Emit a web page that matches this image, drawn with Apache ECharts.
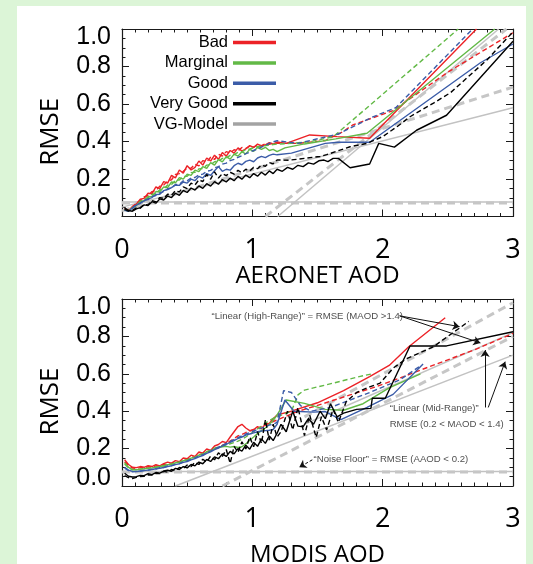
<!DOCTYPE html>
<html><head><meta charset="utf-8">
<script src="https://cdn.jsdelivr.net/npm/echarts@6/dist/echarts.min.js"></script>
<style>
html,body{margin:0;padding:0;background:#dcf5d7;overflow:hidden;}
#panel{position:absolute;left:17px;top:6px;width:509px;height:558px;background:#fff;}
#c{position:absolute;left:0;top:0;width:533px;height:564px;}
</style>
</head><body><div id="panel"></div><div id="c"></div>
<script>
// ---------- shared AOD bins for the dense (low-AOD) part ----------
const LOW_X = [0.02,0.05,0.08,0.11,0.14,0.17,0.20,0.23,0.26,0.29,0.32,0.35,0.38,0.41,0.44,0.47,0.50,0.53,0.56,0.59,0.62,0.65,0.68,0.71,0.74,0.77,0.80,0.83,0.86,0.89,0.92,0.95,0.98,1.01,1.04,1.07,1.10,1.13,1.16,1.19];

// ---------- top panel (AERONET AOD) ----------
const BAD_S_LOW  = [0.042,0.031,0.054,0.066,0.092,0.097,0.124,0.121,0.158,0.149,0.186,0.178,0.219,0.206,0.248,0.231,0.271,0.248,0.262,0.296,0.274,0.312,0.296,0.327,0.305,0.341,0.322,0.352,0.338,0.366,0.349,0.361,0.378,0.368,0.386,0.376,0.382,0.394,0.386,0.397];
const BAD_S_HIGH = [[1.26,0.39],[1.44,0.435],[1.65,0.426],[1.90,0.417],[2.72,1.0]];
const BAD_D_LOW  = [0.038,0.034,0.049,0.071,0.083,0.104,0.112,0.133,0.139,0.162,0.168,0.189,0.196,0.224,0.229,0.241,0.258,0.257,0.279,0.270,0.298,0.291,0.316,0.304,0.332,0.322,0.346,0.339,0.356,0.350,0.368,0.362,0.375,0.370,0.381,0.378,0.388,0.385,0.392,0.390];
const BAD_D_HIGH = [[1.35,0.39],[1.56,0.405],[1.69,0.45],[1.77,0.488],[2.08,0.565],[2.50,0.77],[3.0,0.98]];
const MAR_S_LOW  = [0.036,0.029,0.048,0.058,0.081,0.084,0.107,0.106,0.133,0.131,0.158,0.154,0.184,0.179,0.207,0.199,0.226,0.219,0.247,0.239,0.266,0.257,0.287,0.274,0.304,0.291,0.319,0.306,0.333,0.322,0.345,0.334,0.358,0.348,0.368,0.358,0.369,0.352,0.358,0.346];
const MAR_S_HIGH = [[1.25,0.366],[1.40,0.387],[1.64,0.414],[1.88,0.444],[2.86,1.0]];
const MAR_D_LOW  = [0.034,0.031,0.044,0.062,0.073,0.092,0.098,0.118,0.121,0.143,0.146,0.168,0.171,0.193,0.195,0.214,0.215,0.234,0.236,0.254,0.256,0.274,0.276,0.292,0.295,0.310,0.313,0.326,0.330,0.342,0.345,0.356,0.360,0.366,0.372,0.375,0.378,0.380,0.384,0.386];
const MAR_D_HIGH = [[1.30,0.39],[1.45,0.40],[1.62,0.425],[1.98,0.64],[2.58,1.0]];
const GOOD_S_LOW = [0.034,0.028,0.046,0.061,0.072,0.083,0.094,0.101,0.117,0.119,0.138,0.144,0.154,0.168,0.166,0.184,0.178,0.199,0.191,0.214,0.205,0.229,0.219,0.244,0.266,0.241,0.252,0.247,0.271,0.284,0.276,0.294,0.301,0.292,0.312,0.321,0.314,0.326,0.333,0.329];
const GOOD_S_HIGH= [[1.30,0.338],[1.56,0.39],[1.66,0.396],[1.90,0.396],[2.75,0.82],[3.0,0.92]];
const GOOD_D_LOW = [0.033,0.030,0.043,0.064,0.069,0.088,0.090,0.106,0.112,0.126,0.133,0.148,0.152,0.171,0.172,0.190,0.190,0.206,0.208,0.222,0.226,0.241,0.246,0.260,0.266,0.279,0.285,0.298,0.305,0.315,0.324,0.335,0.343,0.352,0.360,0.370,0.380,0.390,0.398,0.404];
const GOOD_D_HIGH= [[1.35,0.39],[1.66,0.44],[1.79,0.485],[1.92,0.53],[2.10,0.58],[2.69,1.0]];
const VG_S_LOW   = [0.046,0.032,0.028,0.041,0.047,0.062,0.058,0.079,0.071,0.094,0.088,0.109,0.101,0.124,0.113,0.139,0.128,0.152,0.141,0.163,0.150,0.175,0.162,0.186,0.172,0.197,0.184,0.205,0.191,0.214,0.199,0.221,0.207,0.229,0.215,0.236,0.221,0.243,0.229,0.252];
const VG_S_HIGH  = [[1.23,0.241],[1.27,0.262],[1.31,0.252],[1.35,0.273],[1.39,0.266],[1.43,0.286],[1.47,0.279],[1.51,0.297],[1.55,0.301],[1.58,0.293],[1.62,0.31],[1.66,0.31],[1.75,0.26],[1.90,0.28],[1.97,0.39],[2.09,0.37],[2.26,0.46],[2.49,0.54],[3.0,0.935]];
const VG_D_LOW   = [0.038,0.029,0.033,0.046,0.044,0.064,0.062,0.085,0.078,0.101,0.096,0.119,0.113,0.138,0.131,0.158,0.149,0.178,0.168,0.196,0.186,0.224,0.199,0.238,0.205,0.229,0.218,0.236,0.226,0.246,0.234,0.252,0.243,0.262,0.255,0.274,0.268,0.288,0.281,0.302];
const VG_D_HIGH  = [[1.28,0.30],[1.40,0.31],[1.52,0.32],[1.57,0.33],[1.75,0.372],[1.88,0.39],[2.00,0.426],[2.11,0.479],[2.21,0.532],[2.39,0.605],[2.52,0.66],[2.80,0.835],[3.0,0.985]];
const MODEL_TOP = {
  nfSolid:  [[0,0.077],[3,0.077]],
  nfDash:   [[0,0.072],[3,0.072]],
  midSolid: [[0,0.05],[3,0.58]],
  midDash:  [[0,0.03],[3,0.69]],
  hiSolid:  [[1.195,0],[2.89,1.0]],
  hiDash:   [[1.10,0],[2.95,1.0]]
};

// ---------- bottom panel (MODIS AOD) ----------
const BAD_S2_LOW  = [0.140,0.115,0.100,0.098,0.104,0.100,0.109,0.104,0.114,0.108,0.120,0.128,0.122,0.136,0.130,0.150,0.146,0.165,0.158,0.182,0.176,0.198,0.190,0.214,0.222,0.238,0.232,0.262,0.290,0.318,0.330,0.310,0.296,0.300,0.318,0.306,0.330,0.335,0.360,0.380];
const BAD_S2_HIGH = [[1.30,0.40],[1.50,0.445],[1.70,0.51],[1.90,0.585],[2.05,0.645],[2.20,0.745],[2.48,0.90]];
const BAD_D2_LOW  = [0.130,0.108,0.096,0.094,0.098,0.097,0.103,0.101,0.108,0.106,0.114,0.118,0.119,0.127,0.128,0.139,0.141,0.153,0.155,0.168,0.171,0.184,0.188,0.200,0.206,0.218,0.226,0.240,0.254,0.268,0.276,0.286,0.294,0.302,0.310,0.318,0.326,0.336,0.345,0.353];
const BAD_D2_HIGH = [[1.34,0.397],[1.55,0.442],[1.75,0.487],[1.95,0.531],[2.16,0.585],[2.29,0.62],[2.70,0.727],[3.0,0.816]];
const MAR_S2_LOW  = [0.125,0.100,0.088,0.087,0.090,0.092,0.095,0.097,0.101,0.104,0.108,0.114,0.117,0.124,0.127,0.135,0.139,0.149,0.154,0.165,0.171,0.182,0.188,0.200,0.205,0.210,0.212,0.208,0.211,0.206,0.210,0.225,0.245,0.262,0.280,0.296,0.310,0.330,0.350,0.380];
const MAR_S2_HIGH = [[1.26,0.46],[1.40,0.442],[1.56,0.41],[1.70,0.405],[1.85,0.44],[2.05,0.525],[2.29,0.60]];
const MAR_D2_LOW  = [0.118,0.096,0.086,0.088,0.089,0.094,0.094,0.099,0.100,0.106,0.107,0.116,0.116,0.126,0.126,0.137,0.138,0.151,0.153,0.167,0.170,0.184,0.190,0.202,0.208,0.216,0.220,0.226,0.232,0.240,0.250,0.262,0.276,0.290,0.305,0.320,0.336,0.350,0.362,0.370];
const MAR_D2_HIGH = [[1.30,0.40],[1.35,0.487],[1.40,0.513],[1.62,0.55],[1.82,0.585],[1.92,0.60]];
const GOOD_S2_LOW = [0.100,0.085,0.078,0.077,0.080,0.082,0.085,0.088,0.092,0.095,0.099,0.104,0.108,0.114,0.118,0.126,0.131,0.140,0.146,0.156,0.163,0.174,0.182,0.194,0.203,0.214,0.222,0.234,0.243,0.254,0.262,0.272,0.278,0.284,0.290,0.294,0.296,0.298,0.302,0.330];
const GOOD_S2_HIGH= [[1.25,0.46],[1.32,0.40],[1.47,0.395],[1.56,0.398],[1.68,0.355],[1.88,0.42],[2.08,0.49],[2.31,0.652]];
const GOOD_D2_LOW = [0.095,0.082,0.076,0.078,0.079,0.084,0.084,0.090,0.091,0.098,0.099,0.107,0.109,0.117,0.120,0.129,0.134,0.143,0.150,0.160,0.167,0.178,0.187,0.198,0.208,0.218,0.228,0.238,0.248,0.258,0.268,0.278,0.286,0.294,0.302,0.310,0.318,0.326,0.330,0.340];
const GOOD_D2_HIGH= [[1.24,0.51],[1.30,0.50],[1.37,0.43],[1.45,0.40],[1.60,0.42],[1.90,0.50],[2.13,0.567],[2.28,0.638]];
const VG_S2_LOW   = [0.068,0.052,0.048,0.050,0.057,0.055,0.066,0.061,0.072,0.069,0.080,0.084,0.079,0.094,0.088,0.104,0.097,0.115,0.108,0.128,0.119,0.142,0.131,0.156,0.146,0.172,0.158,0.185,0.172,0.200,0.186,0.218,0.197,0.234,0.212,0.252,0.228,0.268,0.243,0.282];
const VG_S2_HIGH  = [[1.22,0.33],[1.26,0.29],[1.31,0.40],[1.35,0.32],[1.39,0.317],[1.43,0.36],[1.47,0.33],[1.52,0.40],[1.56,0.36],[1.60,0.44],[1.65,0.37],[1.70,0.39],[1.80,0.41],[1.91,0.415],[1.92,0.469],[2.02,0.469],[2.21,0.749],[2.49,0.749],[3.0,0.825]];
const VG_D2_LOW   = [0.055,0.045,0.040,0.046,0.051,0.052,0.060,0.058,0.068,0.066,0.078,0.074,0.088,0.082,0.099,0.093,0.112,0.104,0.127,0.115,0.143,0.128,0.160,0.140,0.178,0.158,0.195,0.121,0.212,0.180,0.236,0.198,0.262,0.210,0.290,0.228,0.353,0.245,0.330,0.262];
const VG_D2_HIGH  = [[1.22,0.29],[1.27,0.40],[1.31,0.30],[1.35,0.42],[1.40,0.27],[1.44,0.38],[1.49,0.26],[1.53,0.37],[1.57,0.30],[1.62,0.41],[1.66,0.34],[1.72,0.45],[1.80,0.50],[1.90,0.53],[1.98,0.55],[2.08,0.63],[2.18,0.68],[2.39,0.745],[2.66,0.88]];
const MODEL_BOT = {
  nfSolid:  [[0,0.078],[3,0.078]],
  nfDash:   [[0,0.075],[3,0.075]],
  midSolid: [[0.41,0],[3,0.70]],
  midDash:  [[0.77,0],[3,0.80]],
  hiSolid:  [[1.40,0.33],[3,0.82]],
  hiDash:   [[1.40,0.37],[3,0.98]]
};

// ---------- annotations (data coordinates of bottom panel) ----------
const NOTE_TEXTS = [
  {name:'\u201CLinear (High-Range)\u201D = RMSE (MAOD >1.4)', value:[0.683,0.905]},
  {name:'\u201CLinear (Mid-Range)\u201D', value:[2.05,0.415]},
  {name:'RMSE (0.2 < MAOD < 1.4)', value:[2.05,0.332]},
  {name:'\u201CNoise Floor\u201D = RMSE (AAOD < 0.2)', value:[1.466,0.143]}
];
const NOTE_ARROWS = [
  [[2.13,0.91],[2.59,0.852]],
  [[2.13,0.91],[2.75,0.765]],
  [[2.786,0.42],[2.786,0.727]],
  [[2.81,0.42],[2.94,0.665]]
];
const NOTE_DASH_ARROW = [[1.46,0.14],[1.36,0.10]];

const X_TICKS = [0,1,2,3];
const Y_TICKS = [0,0.2,0.4,0.6,0.8,1.0];

// ---------- build ----------
const RED='#ec2227', GREEN='#62b946', BLUE='#3b5ca8', BLACK='#000000', GREY_S='#c2c2c2', GREY_D='#c6c6c6';
function join(low, high){ return low.map((y,i)=>[LOW_X[i],y]).concat(high); }
function ln(name, data, color, width, type, g, z){
  return {type:'line', name:name, data:data, xAxisIndex:g*2, yAxisIndex:g*2,
    symbol:'none', showSymbol:false, silent:true, clip:true, z:z||2,
    lineStyle:{color:color, width:width, type:type||'solid'}, itemStyle:{color:color},
    emphasis:{disabled:true}};
}
const DASH=[5,3], GDASH=[8,5];
const series = [];
[[MODEL_TOP,0],[MODEL_BOT,1]].forEach(([m,g])=>{
  series.push(ln('VG-Model', m.nfSolid, GREY_S, 1.5, 'solid', g, 1));
  series.push(ln('VG-Model d', m.nfDash, GREY_D, 3, GDASH, g, 1));
  series.push(ln('VG-Model', m.midSolid, GREY_S, 1.5, 'solid', g, 1));
  series.push(ln('VG-Model d', m.midDash, GREY_D, 3, GDASH, g, 1));
  series.push(ln('VG-Model', m.hiSolid, GREY_S, 1.5, 'solid', g, 1));
  series.push(ln('VG-Model d', m.hiDash, GREY_D, 3, GDASH, g, 1));
});
series.push(ln('Bad', join(BAD_S_LOW,BAD_S_HIGH), RED, 1.4, 'solid', 0));
series.push(ln('Bad d', join(BAD_D_LOW,BAD_D_HIGH), RED, 1.4, DASH, 0));
series.push(ln('Marginal', join(MAR_S_LOW,MAR_S_HIGH), GREEN, 1.4, 'solid', 0));
series.push(ln('Marginal d', join(MAR_D_LOW,MAR_D_HIGH), GREEN, 1.4, DASH, 0));
series.push(ln('Good', join(GOOD_S_LOW,GOOD_S_HIGH), BLUE, 1.4, 'solid', 0));
series.push(ln('Good d', join(GOOD_D_LOW,GOOD_D_HIGH), BLUE, 1.4, DASH, 0));
series.push(ln('Very Good', join(VG_S_LOW,VG_S_HIGH), BLACK, 1.4, 'solid', 0, 3));
series.push(ln('Very Good d', join(VG_D_LOW,VG_D_HIGH), BLACK, 1.4, DASH, 0, 3));
series.push(ln('Bad', join(BAD_S2_LOW,BAD_S2_HIGH), RED, 1.4, 'solid', 1));
series.push(ln('Bad d', join(BAD_D2_LOW,BAD_D2_HIGH), RED, 1.4, DASH, 1));
series.push(ln('Marginal', join(MAR_S2_LOW,MAR_S2_HIGH), GREEN, 1.4, 'solid', 1));
series.push(ln('Marginal d', join(MAR_D2_LOW,MAR_D2_HIGH), GREEN, 1.4, DASH, 1));
series.push(ln('Good', join(GOOD_S2_LOW,GOOD_S2_HIGH), BLUE, 1.4, 'solid', 1));
series.push(ln('Good d', join(GOOD_D2_LOW,GOOD_D2_HIGH), BLUE, 1.4, DASH, 1));
series.push(ln('Very Good', join(VG_S2_LOW,VG_S2_HIGH), BLACK, 1.4, 'solid', 1, 3));
series.push(ln('Very Good d', join(VG_D2_LOW,VG_D2_HIGH), BLACK, 1.4, DASH, 1, 3));

// annotation arrows
series.push({type:'line', name:'notes', data:[], xAxisIndex:2, yAxisIndex:2, silent:true, z:5,
  markLine:{silent:true, symbol:['none','arrow'], symbolSize:7, animation:false, precision:3,
    label:{show:false}, emphasis:{disabled:true},
    lineStyle:{color:'#111', width:1, type:'solid'},
    data: NOTE_ARROWS.map(a=>[{coord:a[0]},{coord:a[1]}]).concat([
      [{coord:NOTE_DASH_ARROW[0], lineStyle:{type:[3,2], color:'#111', width:1}},{coord:NOTE_DASH_ARROW[1]}]
    ])
  }});
// annotation texts
series.push({type:'scatter', name:'noteText', data:NOTE_TEXTS, xAxisIndex:2, yAxisIndex:2,
  symbolSize:1, itemStyle:{color:'rgba(0,0,0,0)'}, silent:true, z:6,
  label:{show:true, position:'right', distance:0, formatter:'{b}', color:'#1a1a1a',
    fontFamily:'"Liberation Sans",Arial,sans-serif', fontSize:9.6}});

const AX_COLOR = '#1a1a1a';
function xAx(g, pos, name, gap){
  const show = pos==='bottom';
  return {gridIndex:g, type:'value', position:pos, min:X_TICKS[0], max:X_TICKS[X_TICKS.length-1], interval:1,
    axisLine:{show:true, onZero:false, lineStyle:{color:AX_COLOR, width:1.2}},
    axisTick:{show:true, inside:true, length:7, lineStyle:{color:AX_COLOR, width:1}},
    minorTick:{show:true, splitNumber:10, length:3.5, lineStyle:{color:AX_COLOR, width:1}},
    splitLine:{show:false}, minorSplitLine:{show:false},
    axisLabel:{show:show, fontFamily:'"Open Sans",sans-serif', fontSize:27, color:'#000', margin:20},
    name: show?name:'', nameLocation:'middle', nameGap:gap,
    nameTextStyle:{fontFamily:'"Open Sans",sans-serif', fontSize:24, color:'#000'}};
}
function yAx(g, pos){
  const show = pos==='left';
  return {gridIndex:g, type:'value', position:pos, min:Y_TICKS[0], max:Y_TICKS[Y_TICKS.length-1], interval:0.2,
    axisLine:{show:true, onZero:false, lineStyle:{color:AX_COLOR, width:1.2}},
    axisTick:{show:true, inside:true, length:7, lineStyle:{color:AX_COLOR, width:1}},
    minorTick:{show:true, splitNumber:4, length:3.5, lineStyle:{color:AX_COLOR, width:1}},
    splitLine:{show:false}, minorSplitLine:{show:false},
    axisLabel:{show:show, formatter:v=>v.toFixed(1), fontFamily:'"Liberation Sans",Arial,sans-serif',
      fontSize:25, color:'#000', margin:11, lineHeight:16,
      verticalAlignMinLabel:'bottom', verticalAlignMaxLabel:'top'},
    name: show?'RMSE':'', nameLocation:'middle', nameGap:58,
    nameTextStyle:{fontFamily:'"Open Sans",sans-serif', fontSize:26, color:'#000', padding:[0,18,0,0]}};
}

const chart = echarts.init(document.getElementById('c'), null, {renderer:'canvas'});
chart.setOption({
  animation:false,
  backgroundColor:'transparent',
  grid:[{left:122, top:29, width:391, height:187.5, outerBoundsMode:'none'},
        {left:122, top:299, width:391, height:187, outerBoundsMode:'none'}],
  xAxis:[xAx(0,'bottom','AERONET AOD',41), xAx(0,'top'), xAx(1,'bottom','MODIS AOD',57), xAx(1,'top')],
  yAxis:[yAx(0,'left'), yAx(0,'right'), yAx(1,'left'), yAx(1,'right')],
  legend:{orient:'vertical', right:257, top:33.5, align:'right', itemWidth:43, itemHeight:3.5, itemGap:2.4,
    padding:0, selectedMode:false,
    textStyle:{fontFamily:'"Liberation Sans",Arial,sans-serif', fontSize:16.5, color:'#000', lineHeight:18},
    data:[{name:'Bad',icon:'rect'},{name:'Marginal',icon:'rect'},{name:'Good',icon:'rect'},
          {name:'Very Good',icon:'rect'},{name:'VG-Model',icon:'rect',itemStyle:{color:'#a3a3a3'}}]},
  series:series
});
</script>
</body></html>
